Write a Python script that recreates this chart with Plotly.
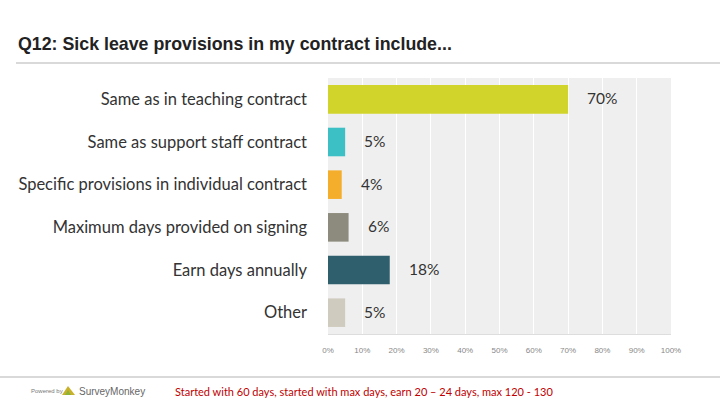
import plotly.graph_objects as go

categories = [
    "Same as in teaching contract",
    "Same as support staff contract",
    "Specific provisions in individual contract",
    "Maximum days provided on signing",
    "Earn days annually",
    "Other",
]
values = [70, 5, 4, 6, 18, 5]
value_labels = ["70%", "5%", "4%", "6%", "18%", "5%"]
colors = ["#D1D42B", "#3DBFC6", "#F4AE2C", "#8D8B7D", "#2F5E6C", "#CFCCBF"]
tick_vals = [0, 10, 20, 30, 40, 50, 60, 70, 80, 90, 100]
tick_text = ["0%", "10%", "20%", "30%", "40%", "50%", "60%", "70%", "80%", "90%", "100%"]

title = "Q12: Sick leave provisions in my contract include..."
note = "Started with 60 days, started with max days, earn 20 \u2013 24 days, max 120 - 130"

W, H = 720, 405
L, R, T, B = 328, 49, 78, 71
PW, PH = W - L - R, H - T - B

def px(x):
    return (x - L) / PW

def py(y):
    return (H - B - y) / PH

fig = go.Figure()
fig.add_trace(go.Bar(
    x=values,
    y=categories,
    orientation="h",
    marker=dict(color=colors, line=dict(width=0)),
    width=0.67,
    hoverinfo="skip",
))

annotations = []
for c, v, t in zip(categories, values, value_labels):
    annotations.append(dict(
        x=v, y=c, xref="x", yref="y", text=t, showarrow=False,
        xanchor="left", xshift=17, yshift=1,
        font=dict(family="Lato, Open Sans, sans-serif", size=15.5, color="#333333"),
    ))

annotations.append(dict(
    x=px(16), y=py(44), xref="paper", yref="paper", text="<b>" + title + "</b>",
    showarrow=False, xanchor="left", yanchor="middle",
    font=dict(family="Liberation Sans, Arial, sans-serif", size=17.8, color="#222222"),
))
annotations.append(dict(
    x=px(29), y=py(391), xref="paper", yref="paper", text="Powered by",
    showarrow=False, xanchor="left", yanchor="middle",
    font=dict(family="Liberation Sans, Arial, sans-serif", size=6, color="#777777"),
))
annotations.append(dict(
    x=px(77), y=py(391), xref="paper", yref="paper", text="SurveyMonkey",
    showarrow=False, xanchor="left", yanchor="middle",
    font=dict(family="Liberation Sans, Arial, sans-serif", size=10, color="#666666"),
))
annotations.append(dict(
    x=px(173), y=py(391), xref="paper", yref="paper", text=note,
    showarrow=False, xanchor="left", yanchor="middle",
    font=dict(family="Lato, Open Sans, sans-serif", size=11, color="#C00000"),
))

shapes = [
    dict(type="line", xref="paper", yref="paper", x0=px(16), x1=px(720), y0=py(63), y1=py(63),
         line=dict(color="#CCCCCC", width=1.5)),
    dict(type="line", xref="paper", yref="paper", x0=px(0), x1=px(720), y0=py(377), y1=py(377),
         line=dict(color="#CCCCCC", width=1.5)),
    # small monkey logo mark
    dict(type="path", xref="paper", yref="paper",
         path=f"M {px(62)} {py(395)} L {px(68)} {py(386)} L {px(75)} {py(395)} Z",
         fillcolor="#C9B22A", line=dict(width=0)),
    dict(type="path", xref="paper", yref="paper",
         path=f"M {px(65)} {py(395)} L {px(68)} {py(390)} L {px(71)} {py(395)} Z",
         fillcolor="#8DB33A", line=dict(width=0)),
]

fig.update_layout(
    width=W, height=H,
    margin=dict(l=L, r=R, t=T, b=B, pad=0),
    paper_bgcolor="white",
    plot_bgcolor="#EFEFEF",
    showlegend=False,
    bargap=0.33,
    annotations=annotations,
    shapes=shapes,
    xaxis=dict(
        range=[0, 100], tickvals=tick_vals, ticktext=tick_text,
        showgrid=True, gridcolor="white", gridwidth=1,
        zeroline=False, showline=True, linecolor="#DDDDDD", linewidth=1,
        mirror=False,
        tickfont=dict(family="Liberation Sans, Arial, sans-serif", size=8, color="#888888"),
        ticks="", ticklabelstandoff=8, fixedrange=True,
    ),
    yaxis=dict(
        categoryorder="array", categoryarray=categories, autorange="reversed",
        showgrid=False, zeroline=False, showline=False,
        tickfont=dict(family="Lato, Open Sans, sans-serif", size=16.5, color="#333333"),
        ticks="", ticklabelstandoff=20, fixedrange=True,
    ),
)

fig.write_html(
    "out.html",
    config={"displayModeBar": False},
    post_script="document.body.style.margin='0px';document.body.style.overflow='hidden';",
)
